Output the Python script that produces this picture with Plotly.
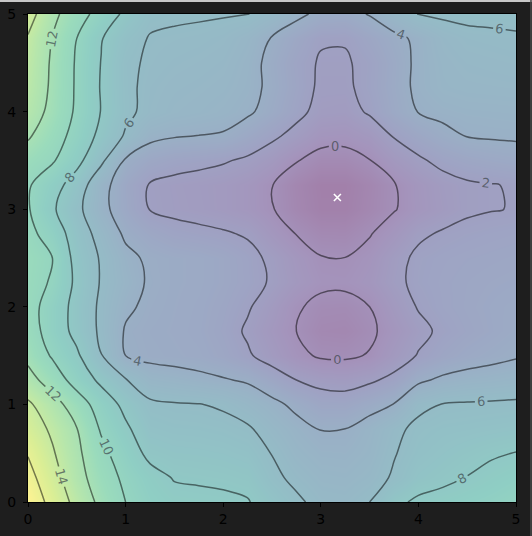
import plotly.graph_objects as go
from plotly.colors import sequential, hex_to_rgb

# grid coordinates (x and y, data units)
x_coords = [0.0, 0.25, 0.5, 0.75, 1.0, 1.25, 1.5, 1.75, 2.0, 2.25, 2.5,
            2.75, 3.0, 3.25, 3.5, 3.75, 4.0, 4.25, 4.5, 4.75, 5.0]
y_coords = [0.0, 0.25, 0.5, 0.75, 1.0, 1.25, 1.5, 1.75, 2.0, 2.25, 2.5,
            2.75, 3.0, 3.25, 3.5, 3.75, 4.0, 4.25, 4.5, 4.75, 5.0]

# surface values, one row per y (bottom to top)
z_grid = [
    [17.3, 15.4, 13.4, 11.5, 10.0, 9.0, 8.5, 8.4, 8.3, 8.1, 7.2, 6.3, 5.5, 5.4, 6.0, 7.6, 8.3, 8.6, 8.9, 9.2, 9.6],
    [16.6, 14.8, 12.7, 11.0, 9.6, 8.6, 7.9, 7.8, 7.7, 7.5, 6.4, 5.6, 5.0, 4.9, 5.3, 6.2, 7.2, 7.6, 8.05, 8.5, 8.9],
    [15.9, 14.2, 12.4, 10.5, 9.0, 7.55, 7.3, 7.22, 7.1, 6.85, 5.95, 5.0, 4.5, 4.45, 4.9, 5.9, 6.7, 7.1, 7.45, 7.8, 8.05],
    [15.0, 13.7, 12.05, 9.8, 8.3, 6.9, 6.7, 6.64, 6.5, 6.2, 5.3, 4.55, 3.95, 4.0, 4.7, 5.6, 6.4, 6.7, 6.8, 6.95, 7.1],
    [14.3, 12.8, 11.0, 9.1, 7.5, 6.3, 6.12, 6.05, 5.8, 5.15, 4.45, 3.6, 2.85, 2.8, 3.4, 4.05, 5.6, 6.05, 6.15, 6.2, 6.27],
    [12.7, 11.1, 9.2, 7.6, 6.1, 4.9, 4.67, 4.4, 4.13, 3.8, 2.9, 2.0, 1.5, 1.35, 1.75, 2.4, 3.7, 4.3, 4.6, 4.75, 4.95],
    [11.5, 9.8, 8.3, 6.05, 4.0, 3.6, 3.45, 3.3, 2.9, 2.2, 1.3, 0.4, -0.2, -0.25, 0.1, 1.15, 2.1, 2.8, 3.25, 3.55, 3.85],
    [10.9, 9.17, 7.45, 5.67, 3.85, 3.5, 3.35, 3.15, 2.65, 1.8, 0.9, 0.0, -0.8, -0.9, -0.3, 0.65, 1.6, 2.3, 2.75, 3.1, 3.45],
    [10.7, 9.2, 7.36, 5.67, 4.28, 3.65, 3.4, 3.2, 2.8, 2.15, 1.25, 0.2, -0.45, -0.5, 0.0, 1.1, 2.1, 2.6, 2.9, 3.15, 3.35],
    [10.8, 9.8, 7.6, 5.86, 4.67, 3.8, 3.45, 3.3, 3.0, 2.5, 1.85, 1.0, 0.35, 0.3, 0.75, 1.65, 2.35, 2.65, 2.85, 3.0, 3.1],
    [10.9, 10.0, 7.35, 5.83, 4.44, 3.7, 3.45, 3.3, 3.0, 2.45, 1.7, 0.8, 0.08, 0.02, 0.5, 1.5, 2.3, 2.55, 2.7, 2.8, 2.9],
    [10.5, 9.2, 7.0, 5.35, 3.7, 3.0, 2.55, 2.35, 2.15, 1.85, 0.85, -0.05, -0.7, -0.75, -0.1, 0.75, 1.75, 2.15, 2.35, 2.5, 2.6],
    [10.15, 8.27, 6.48, 4.5, 3.1, 1.95, 1.65, 1.45, 1.2, 0.8, 0.1, -0.9, -1.6, -1.6, -0.9, -0.1, 0.7, 1.3, 1.8, 1.95, 2.05],
    [10.2, 8.8, 7.1, 4.63, 3.0, 1.9, 1.6, 1.4, 1.2, 0.8, 0.05, -1.0, -1.7, -1.7, -1.0, -0.1, 0.75, 1.4, 1.8, 1.95, 2.1],
    [11.1, 10.2, 8.57, 6.38, 3.8, 3.0, 2.6, 2.4, 2.15, 1.75, 1.1, 0.1, -0.6, -0.6, -0.05, 1.0, 1.75, 2.45, 2.85, 3.1, 3.3],
    [12.2, 10.9, 9.33, 7.5, 5.8, 4.4, 4.1, 3.97, 3.85, 3.1, 2.3, 1.5, 0.6, 0.5, 1.0, 2.1, 2.9, 3.6, 4.05, 4.15, 4.2],
    [13.0, 11.5, 9.71, 7.94, 6.4, 5.5, 5.1, 4.9, 4.65, 4.25, 3.4, 2.45, 1.5, 1.4, 2.2, 3.2, 4.05, 4.35, 4.5, 4.55, 4.6],
    [13.4, 11.7, 9.77, 7.88, 6.36, 5.6, 5.3, 5.15, 4.95, 4.5, 3.65, 2.7, 1.75, 1.75, 2.45, 3.37, 4.3, 4.85, 5.0, 5.05, 5.1],
    [13.6, 11.76, 9.8, 7.95, 6.3, 5.8, 5.55, 5.4, 5.2, 4.6, 3.55, 2.6, 1.85, 1.85, 2.4, 3.3, 4.3, 4.95, 5.25, 5.35, 5.45],
    [13.85, 11.95, 10.0, 8.1, 6.7, 5.9, 5.8, 5.7, 5.5, 4.9, 3.9, 3.0, 2.15, 2.1, 2.85, 3.6, 4.3, 5.2, 5.6, 5.7, 5.8],
    [14.8, 12.5, 10.8, 9.3, 7.6, 6.4, 6.2, 6.15, 6.1, 6.05, 5.4, 4.4, 3.6, 3.45, 4.1, 5.1, 6.05, 6.25, 6.35, 6.4, 6.45],
]

# location of the marked minimum
min_x = [3.17]
min_y = [3.12]

tick_vals = [0, 1, 2, 3, 4, 5]
tick_text = ["0", "1", "2", "3", "4", "5"]

# viridis blended 50% with white (matplotlib alpha=0.5 look)
alpha = 0.5
vir = sequential.Viridis
cscale = []
for i, h in enumerate(vir):
    r, g, b = hex_to_rgb(h)
    cscale.append([i / (len(vir) - 1),
                   "rgb(%d,%d,%d)" % (round(r * alpha + 255 * (1 - alpha)),
                                      round(g * alpha + 255 * (1 - alpha)),
                                      round(b * alpha + 255 * (1 - alpha)))])

fig = go.Figure()
fig.add_trace(go.Heatmap(x=x_coords, y=y_coords, z=z_grid, colorscale=cscale,
                         zsmooth="best", showscale=False, hoverinfo="skip"))
fig.add_trace(go.Contour(
    x=x_coords, y=y_coords, z=z_grid, showscale=False,
    contours=dict(coloring="none", start=0, end=16, size=2, showlabels=True,
                  labelfont=dict(family="DejaVu Sans", size=13, color="rgba(60,70,75,0.7)")),
    line=dict(color="rgba(0,0,0,0.5)", width=1.5, smoothing=1.0),
    hoverinfo="skip"))
fig.add_trace(go.Scatter(x=min_x, y=min_y, mode="markers",
                         marker=dict(symbol="x-thin", size=7, color="white",
                                     line=dict(color="white", width=1.6)),
                         showlegend=False))

axis_common = dict(range=[0, 5], tickvals=tick_vals, ticktext=tick_text,
                   ticks="outside", ticklen=4, tickwidth=1, tickcolor="#000000",
                   tickfont=dict(family="DejaVu Sans", size=14, color="#000000"),
                   showgrid=False, zeroline=False, showline=True,
                   linecolor="#000000", linewidth=1, mirror=True,
                   automargin=False)

fig.update_layout(
    width=532, height=536,
    margin=dict(l=28, r=16, t=14, b=34, autoexpand=False),
    paper_bgcolor="#1e1e1e", plot_bgcolor="white",
    xaxis=axis_common, yaxis=dict(axis_common, ticklabelstandoff=4),
    showlegend=False,
    shapes=[
        dict(type="line", xref="paper", yref="paper", x0=-0.06, x1=1.04,
             y0=1.0266, y1=1.0266, line=dict(color="#c8c8c8", width=2)),
        dict(type="line", xref="paper", yref="paper", x0=1.0307, x1=1.0307,
             y0=-0.07, y1=1.03, line=dict(color="#4a4a4a", width=1.5)),
    ],
)

fig.write_html("out.html")
